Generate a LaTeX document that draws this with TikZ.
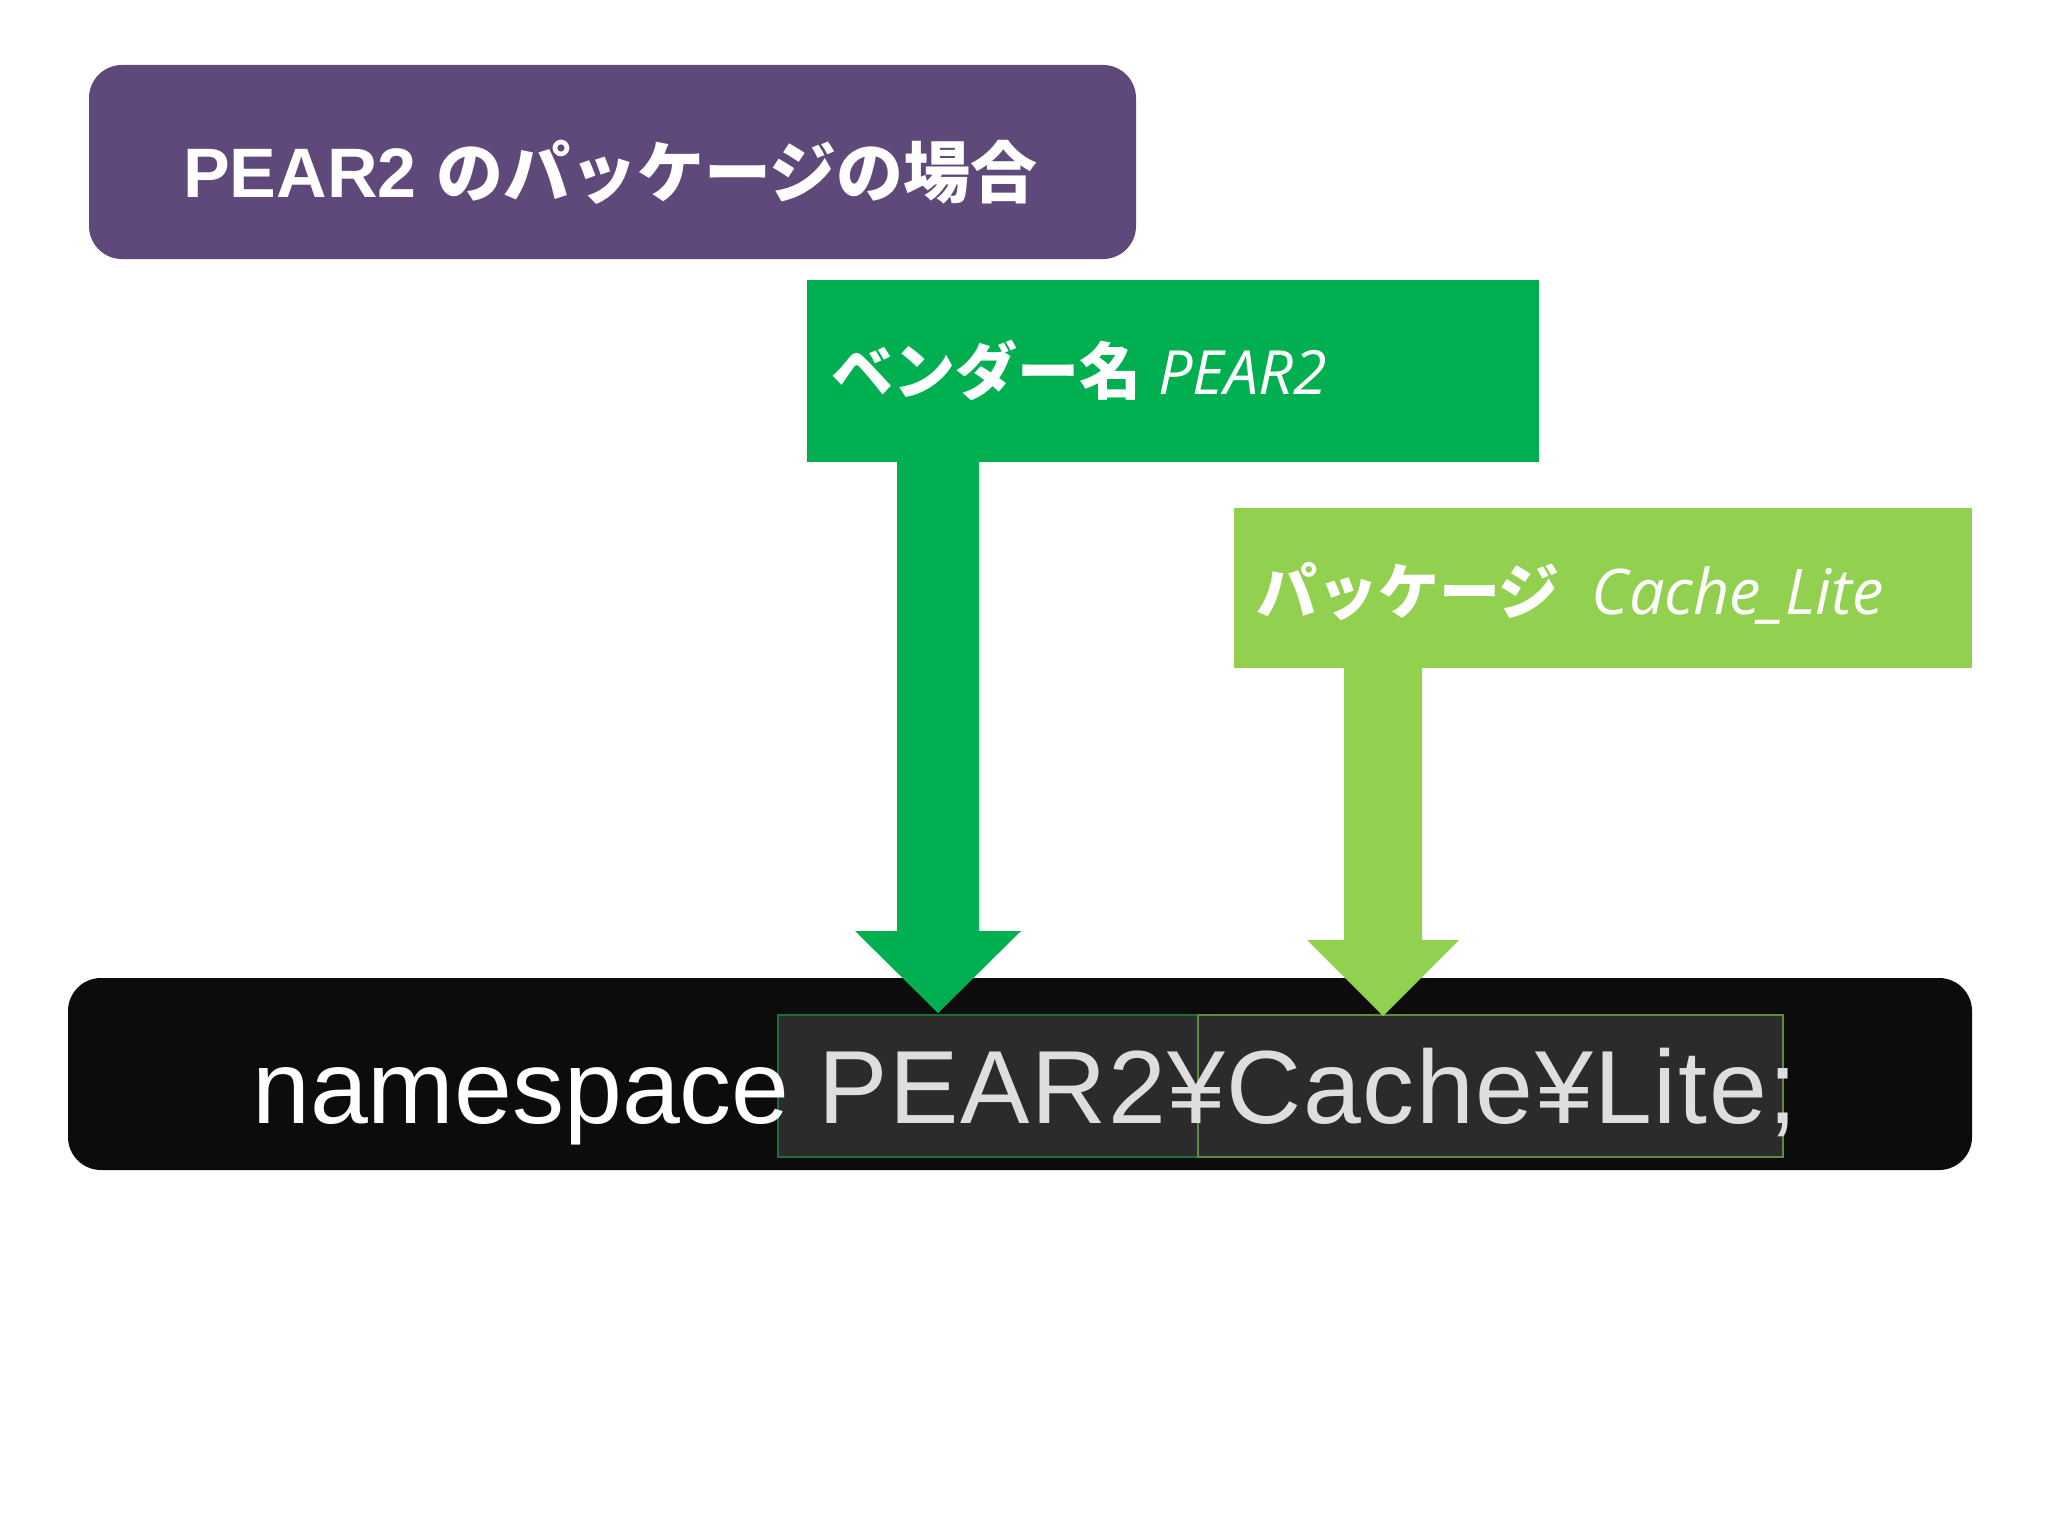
\documentclass[tikz,border=0pt]{standalone}
\usepackage{fontspec}
\setmainfont{Liberation Sans}
\newfontfamily\jp{Noto Sans CJK JP}
\newfontfamily\lat{Open Sans}
\usetikzlibrary{calc}
\definecolor{ppl}{HTML}{5F497A}
\definecolor{vgreen}{HTML}{00B050}
\definecolor{lgreen}{HTML}{92D050}
\definecolor{codebg}{HTML}{0C0C0C}
\definecolor{hlfill}{HTML}{2A2B2A}
\definecolor{hlA}{HTML}{1F6B3C}
\definecolor{hlB}{HTML}{5E8A3E}
\definecolor{codegrey}{HTML}{DEDEDE}
\begin{document}
\begin{tikzpicture}[x=1pt,y=-1pt,
  panel/.style={inner sep=0pt, outer sep=0pt, anchor=north west},
  lbl/.style={inner sep=0pt, anchor=base west, text=white},
  hlbox/.style={panel, fill=hlfill, line width=2.5pt}]
\useasboundingbox[fill=white] (0,0) rectangle (2048,1536);

% title
\node[panel, fill=ppl, rounded corners=33pt, minimum width=1047pt, minimum height=194pt] (title) at (89,65) {};
\node[lbl] (titletext) at (183,197) {\fontsize{70}{80}\selectfont\bfseries PEAR2 {\jp\fontsize{67}{70}\selectfont のパッケージの場合}};

% vendor box
\node[panel, fill=vgreen, minimum width=732pt, minimum height=182pt] (vend) at (807,280) {};
\node[lbl] (vendtext) at (831,394) {\fontsize{61}{70}\selectfont{\jp\bfseries\fontsize{62}{70}\selectfont ベンダー名}\ {\lat\itshape PEAR2}};

% package box
\node[panel, fill=lgreen, minimum width=738pt, minimum height=160pt] (pkg) at (1234,508) {};
\node[lbl] (pkgtext) at (1256,614) {\fontsize{63}{70}\selectfont{\jp\bfseries\fontsize{61}{70}\selectfont パッケージ}\hspace{32pt}{\lat\itshape Cache\_Lite}};

% code bar
\node[panel, fill=codebg, rounded corners=33pt, minimum width=1904pt, minimum height=192pt] (code) at (68,978) {};
\node[hlbox, draw=hlA, minimum width=420pt, minimum height=142pt] (hlA) at (778,1015) {};
\node[hlbox, draw=hlB, minimum width=585pt, minimum height=142pt] (hlB) at (1198,1015) {};
\node[lbl] (codetext) at (252,1123) {\fontsize{104}{120}\selectfont namespace \textcolor{codegrey}{\addfontfeature{LetterSpace=1.5}PEAR2¥Cache¥Lite;}};

% arrows
\coordinate (tipA) at (938,1013);
\coordinate (tipB) at (1383,1016);
\fill[vgreen] ($(tipA|-vend.south)+(-41,0)$) -- ($(tipA)+(-41,-82)$) -- ($(tipA)+(-83,-82)$) -- (tipA)
  -- ($(tipA)+(83,-82)$) -- ($(tipA)+(41,-82)$) -- ($(tipA|-vend.south)+(41,0)$) -- cycle;
\fill[lgreen] ($(tipB|-pkg.south)+(-39,0)$) -- ($(tipB)+(-39,-76)$) -- ($(tipB)+(-76,-76)$) -- (tipB)
  -- ($(tipB)+(76,-76)$) -- ($(tipB)+(39,-76)$) -- ($(tipB|-pkg.south)+(39,0)$) -- cycle;
\end{tikzpicture}
\end{document}
